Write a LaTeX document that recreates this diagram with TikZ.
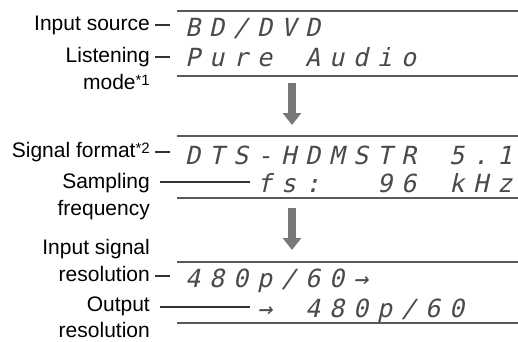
\documentclass[tikz,border=0pt]{standalone}
\usepackage{fontspec}
\setmainfont{Liberation Sans}
\newfontfamily\lcdfont[FakeSlant=0.22]{DejaVu Sans Mono}
\usetikzlibrary{arrows.meta}
\definecolor{rulegray}{HTML}{5A5A5A}
\definecolor{lcdgray}{HTML}{4A4A4A}
\definecolor{flowgray}{HTML}{787878}
\makeatletter
\newcommand\lcd[1]{\@tfor\lcdch:=#1\do{\makebox[24pt][l]{\lcdch}}}
\makeatother
\tikzset{%
    lbl/.style={font=\fontsize{21}{26.5}\selectfont,align=right,inner sep=0pt},
    lcdtxt/.style={font=\lcdfont\fontsize{25}{25}\selectfont,text=lcdgray,
        text height=18pt,text depth=0pt,inner sep=0pt,anchor=west}
}

\begin{document}
\begin{tikzpicture}[
        x=1pt,y=-1pt,
        rule/.style={draw=rulegray,line width=1.5pt},
        lead/.style={draw=black!80,line width=1.1pt},
        flow/.style={draw=flowgray,line width=8pt,-{Triangle[width=18pt,length=12pt]}}
        ]
        \useasboundingbox (0,0) rectangle (518,341);

        % first display
        \draw[rule] (177,11) -- (518,11);
        \draw[rule] (177,76) -- (518,76);
        \node[lbl,text height=15pt,text depth=0pt,anchor=east] (src) at (150,23) {Input source};
        \node[lcdtxt] (bd) at (185,27) {\lcd{BD/DVD}};
        \node[lbl,anchor=north east] (lst) at (150,47.5) {Listening\\mode\raisebox{0.35ex}{\fontsize{15}{15}\selectfont *1}};
        \node[lcdtxt] (pa) at (185,57) {\lcd{Pure~Audio}};
        \draw[lead] ([xshift=5pt]src.east |- 0,25) -- ([xshift=-15pt]bd.west |- 0,25);
        \draw[lead] ([xshift=5pt]lst.east |- pa.west) -- ([xshift=-15pt]pa.west);

        \coordinate (f1a) at (292,83);
        \coordinate (f1b) at (292,125);
        \draw[flow] (f1a) -- (f1b);

        % second display
        \draw[rule] (177,136) -- (518,136);
        \draw[rule] (177,198) -- (518,198);
        \node[lbl,text height=15pt,text depth=0pt,anchor=east] (fmt) at (150,150) {Signal format\raisebox{0.35ex}{\fontsize{15}{15}\selectfont *2}};
        \node[lcdtxt] (dts) at (185,155) {\lcd{DTS-HDMSTR~5.1}};
        \node[lbl,anchor=north east] (smp) at (150,173.5) {Sampling\\frequency};
        \node[lcdtxt] (fs) at (257,183) {\lcd{fs:~~96~kHz}};
        \draw[lead] ([xshift=5pt]fmt.east |- 0,152) -- ([xshift=-15pt]dts.west |- 0,152);
        \draw[lead] ([xshift=10pt]smp.east |- 0,182) -- ([xshift=-7pt]fs.west |- 0,182);

        \coordinate (f2a) at (292,208);
        \coordinate (f2b) at (292,250);
        \draw[flow] (f2a) -- (f2b);

        % third display
        \draw[rule] (177,262) -- (518,262);
        \draw[rule] (177,323) -- (518,323);
        \node[lbl,anchor=south east] (ins) at (150,281.5) {Input signal\\resolution};
        \node[lcdtxt] (inres) at (185,278) {\lcd{480p/60→}};
        \node[lbl,anchor=north east,font=\fontsize{21}{25.5}\selectfont] (outl) at (150,297) {Output\\resolution};
        \node[lcdtxt] (outres) at (257,308) {\lcd{→~480p/60}};
        \draw[lead] ([xshift=5pt]ins.south east |- 0,276) -- ([xshift=-15pt]inres.west |- 0,276);
        \draw[lead] ([xshift=10pt]outl.east |- 0,307) -- ([xshift=-7pt]outres.west |- 0,307);
    \end{tikzpicture}
\end{document}
